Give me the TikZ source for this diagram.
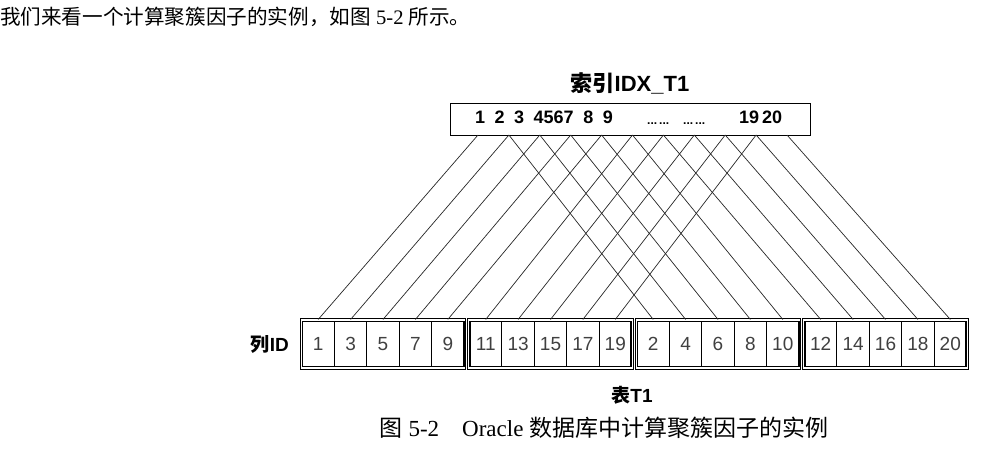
\documentclass[tikz,border=0pt]{standalone}
\usepackage{fontspec}
\setmainfont{Liberation Serif}
\setsansfont{Liberation Sans}
\newfontfamily\cjk{Noto Sans CJK SC}

\tikzset{
  cellbox/.style={draw, line width=1pt, minimum width=32.4pt, minimum height=45pt, inner sep=0pt,
    font=\sffamily\fontsize{19}{19}\selectfont, text=black!75},
  grpframe/.style={draw, double=white, double distance=1.2pt, line width=1.1pt,
    minimum width=163pt, minimum height=48pt, inner sep=0pt},
  idxbox/.style={draw, line width=1pt, minimum width=360pt, minimum height=32pt, inner sep=0pt},
  link/.style={line width=0.7pt, black!85},
  lbl/.style={font=\sffamily\bfseries\fontsize{19}{19}\selectfont, inner sep=0pt},
  prose/.style={font=\fontsize{20.6}{20.6}\selectfont, inner sep=0pt},
}

\begin{document}
\begin{tikzpicture}[x=1pt, y=-1pt]
    \useasboundingbox (0,0) rectangle (1001,460);

    % text above and caption below
    \node[prose, anchor=west] (intro) at (0,17) {{\cjk 我们来看一个计算聚簇因子的实例，如图} 5-2 {\cjk 所示。}};
    \node[prose, font=\fontsize{23}{23}\selectfont] (caption) at (604,428) {{\cjk 图} 5-2\quad Oracle {\cjk 数据库中计算聚簇因子的实例}};

    % index
    \node[lbl, font=\sffamily\bfseries\fontsize{22}{22}\selectfont] (idxtitle) at (630,83) {{\cjk\bfseries 索引}IDX\_T1};
    \node[idxbox] (idx) at (630,119) {};
    \node[lbl, anchor=west, font=\sffamily\bfseries\fontsize{18}{18}\selectfont] (idxlo) at (475,117) {\spaceskip=9.5pt 1 2 3 4567 8 9};
    \node[lbl, anchor=base west, font=\sffamily\bfseries\fontsize{12}{12}\selectfont] (idxdots) at (647,124) {...\,...\hspace{14pt}...\,...};
    \node[lbl, anchor=west, font=\sffamily\bfseries\fontsize{18}{18}\selectfont] (idxhi) at (739,117) {19\,20};
    \foreach \k in {1,...,20}
        \coordinate (i\k) at ({478+30.9*int(\k/2)},135);

    % table rows
    \node[lbl, anchor=east] (colid) at (289,344) {{\cjk\bfseries 列}ID};
    \foreach \g in {0,...,3}
        \node[grpframe] (g\g) at ({383+167.5*\g},344) {};
    \foreach \v [count=\i from 0] in {1,3,5,7,9,11,13,15,17,19,2,4,6,8,10,12,14,16,18,20} {
        \pgfmathsetmacro\cx{302+167.5*int(\i/5)+32.4*mod(\i,5)+16.2}
        \node[cellbox] (c\v) at (\cx,344) {\v};
    }
    \node[lbl] (tbl) at (632,395) {{\cjk\bfseries 表}T1};

    % index entries to rows
    \foreach \k in {1,...,20}
        \draw[link] (i\k) -- (c\k.north |- g0.north);
\end{tikzpicture}
\end{document}
